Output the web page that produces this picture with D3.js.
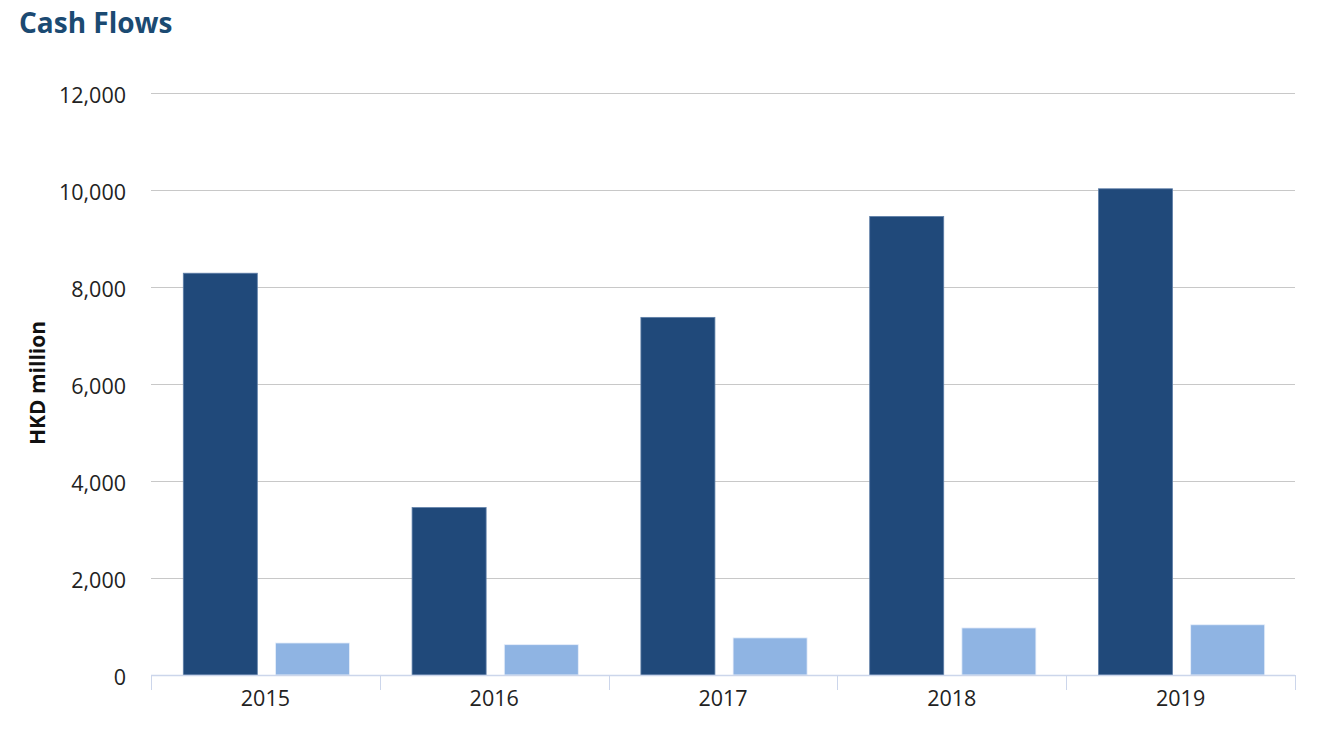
<!DOCTYPE html>
<html><head><meta charset="utf-8">
<script src="https://cdn.jsdelivr.net/npm/d3@7"></script>
<style>body{margin:0;background:#fff;} svg{display:block;font-family:"Open Sans",sans-serif;}</style>
</head><body>
<svg id="c" width="1321" height="730"></svg>
<script>
const years = ["2015","2016","2017","2018","2019"];
const seriesA = [8280, 3450, 7370, 9450, 10020];
const seriesB = [660, 625, 765, 970, 1035];
const yTicks = [0, 2000, 4000, 6000, 8000, 10000, 12000];

(function(){
const svg = d3.select("#c");
const pl = 151, pr = 1295, pt = 92.7, pb = 675;
const x = d3.scaleBand().domain(years).range([pl, pr]).paddingInner(0).paddingOuter(0);
const y = d3.scaleLinear().domain([0, 12000]).range([pb, pt]);
const inner = d3.scaleBand().domain(["a","b"]).range([32.3, 198.5]).paddingInner(0.197).paddingOuter(0);

svg.append("text").attr("x", 19).attr("y", 32.5).text("Cash Flows")
  .attr("font-size", 28).attr("font-weight", "bold").attr("fill", "#1b4a72");

// grid
svg.append("g").selectAll("line").data(yTicks.filter(d=>d>0)).join("line")
  .attr("x1", pl).attr("x2", pr).attr("y1", d=>Math.round(y(d))+0.5).attr("y2", d=>Math.round(y(d))+0.5)
  .attr("stroke", "#c8c8c8").attr("stroke-width", 1);

// y labels
svg.append("g").selectAll("text").data(yTicks).join("text")
  .attr("x", 126).attr("y", d=>y(d)+10).attr("text-anchor","end")
  .attr("font-size", 21.5).attr("fill", "#222").text(d=>d3.format(",")(d));

svg.append("text").attr("transform", `translate(45,383) rotate(-90)`)
  .attr("text-anchor","middle").attr("font-size",21).attr("font-weight","bold").attr("fill","#111")
  .text("HKD million");

// bars
const g = svg.append("g");
g.selectAll("rect.a").data(years).join("rect").attr("class","a")
  .attr("x", (d)=>x(d)+inner("a")).attr("width", inner.bandwidth())
  .attr("y", (d,i)=>y(seriesA[i])).attr("height", (d,i)=>y(0)-y(seriesA[i]))
  .attr("fill","#20497a").attr("stroke","#5f7fa8").attr("stroke-width",0.8);
g.selectAll("rect.b").data(years).join("rect").attr("class","b")
  .attr("x", (d)=>x(d)+inner("b")).attr("width", inner.bandwidth())
  .attr("y", (d,i)=>y(seriesB[i])).attr("height", (d,i)=>y(0)-y(seriesB[i]))
  .attr("fill","#8fb4e3").attr("stroke","#e8effa").attr("stroke-width",0.8);

// x axis
const ax = svg.append("g");
ax.append("line").attr("x1", pl).attr("x2", pr).attr("y1", pb+0.5).attr("y2", pb+0.5)
  .attr("stroke","#ccd6eb").attr("stroke-width",1.5);
const tickPos = years.map(d=>x(d)).concat([pr]);
ax.selectAll("line.t").data(tickPos).join("line").attr("class","t")
  .attr("x1", d=>Math.round(d)+0.5).attr("x2", d=>Math.round(d)+0.5).attr("y1", pb).attr("y2", pb+15)
  .attr("stroke","#ccd6eb").attr("stroke-width",1);
ax.selectAll("text").data(years).join("text")
  .attr("x", d=>x(d)+x.bandwidth()/2).attr("y", 706).attr("text-anchor","middle")
  .attr("font-size",21.5).attr("fill","#222").text(d=>d);
})();
</script>
</body></html>
